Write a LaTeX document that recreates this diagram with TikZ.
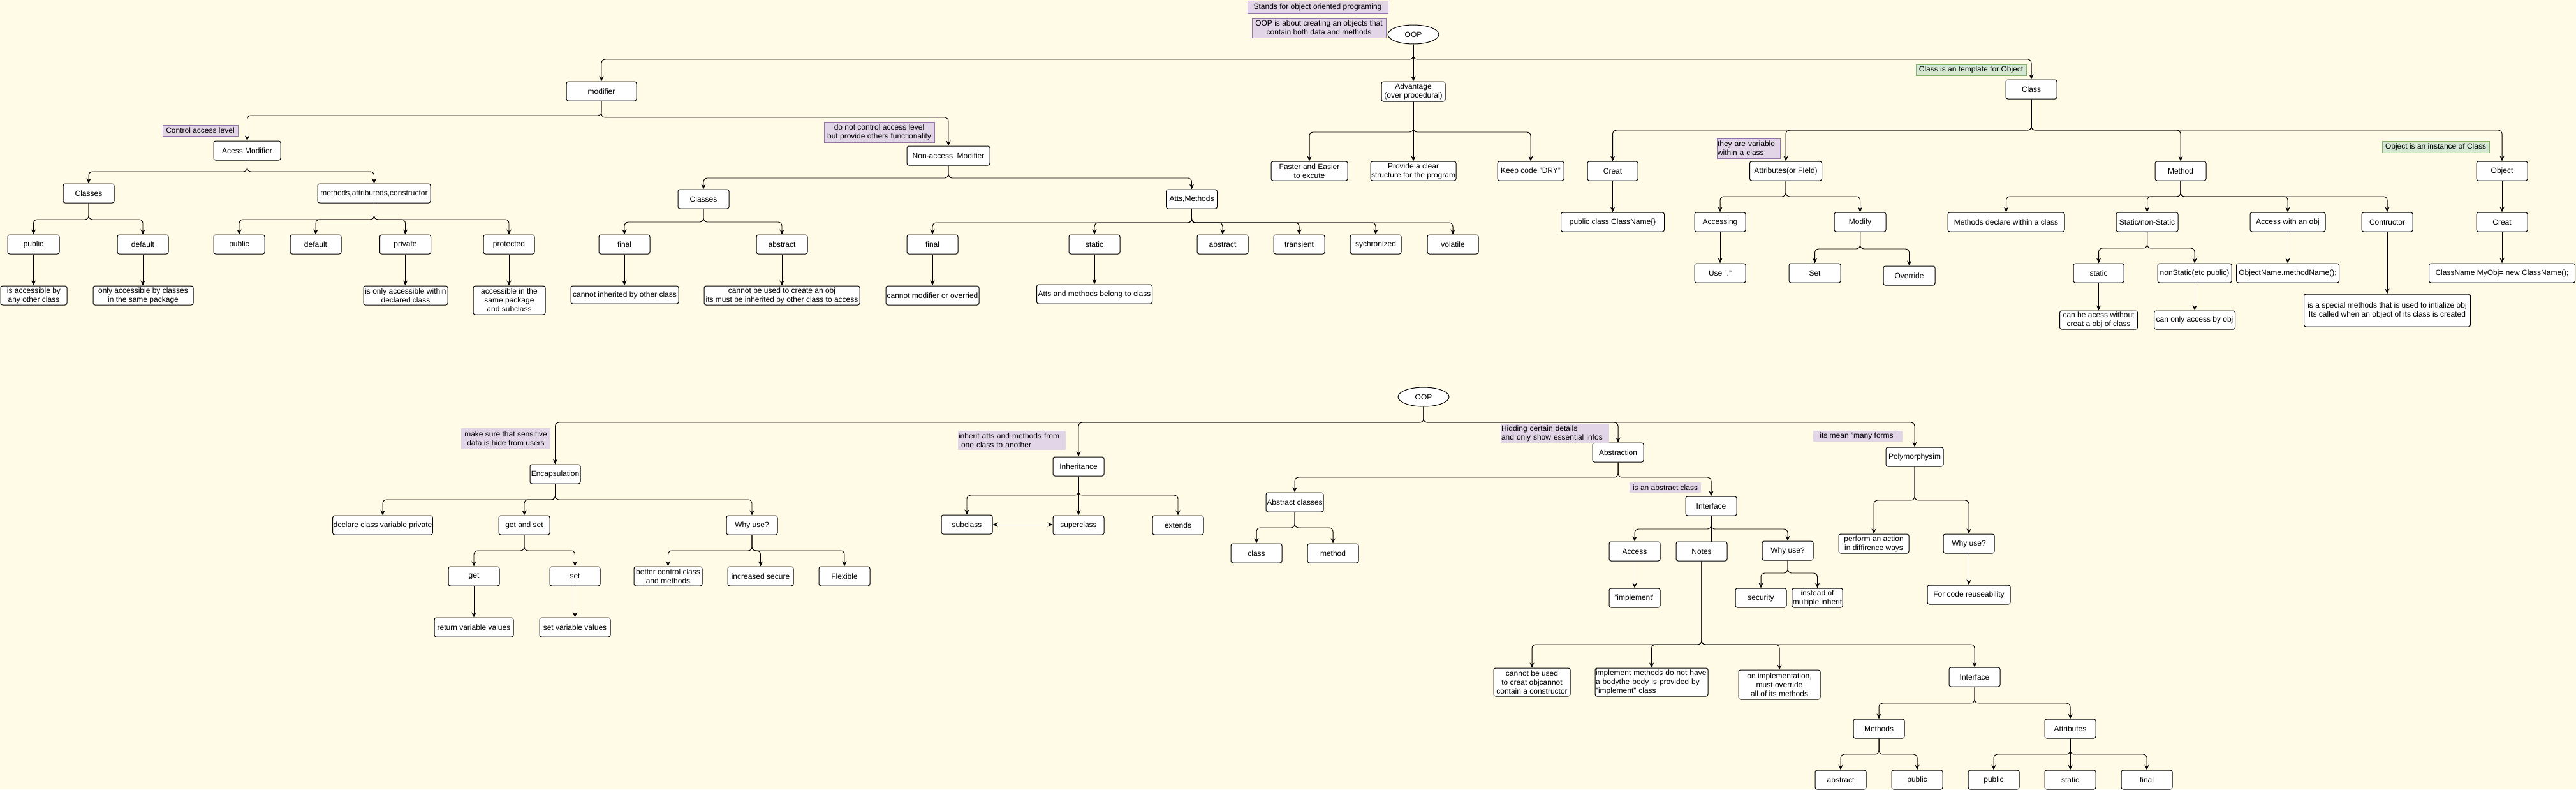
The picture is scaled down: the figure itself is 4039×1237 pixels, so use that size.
\documentclass[tikz,border=0pt]{standalone}
\usepackage{fontspec}
\setmainfont{Liberation Sans}
\usetikzlibrary{arrows.meta,shapes.geometric}
\definecolor{bgc}{HTML}{FFFBE6}
\definecolor{lav}{HTML}{E1D5E7}
\definecolor{lavd}{HTML}{9673A6}
\definecolor{grn}{HTML}{D5E8D4}
\definecolor{grnd}{HTML}{82B366}
\newcommand\fs{\fontsize{12}{14}\selectfont}
\tikzset{
  box/.style={draw=black, fill=white, rounded corners=3pt, line width=1pt, align=center, inner sep=1pt, font=\fs},
  note/.style={fill=lav, draw=lavd, line width=0.9pt, align=center, inner sep=1pt, font=\fs},
  notenb/.style={fill=lav, align=center, inner sep=1pt, font=\fs},
  gnote/.style={fill=grn, draw=grnd, line width=0.9pt, align=center, inner sep=1pt, font=\fs},
  conn/.style={line width=0.95pt, rounded corners=6pt, -{Stealth[length=8pt,width=7pt]}},
  plain/.style={line width=0.95pt},
}
\newcommand\bx[6]{\node[box,minimum width=#4pt,minimum height=#5pt] (#1) at (#2,#3) {#6};}
\newcommand\eb[3]{\coordinate (bus) at (0,#3);\draw[conn] (#1.south) -- (#1.south |- bus) -- (#2.north |- bus) -- (#2.north);}
\newcommand\es[2]{\draw[conn] (#1.south) -- (#1.south |- #2.north);}
\begin{document}
\begin{tikzpicture}[x=1pt,y=-1pt]
\fill[bgc] (0,0) rectangle (4039,1237);
\useasboundingbox (0,0) rectangle (4039,1237);

% ---------- top tree ----------
\node[draw=black, fill=white, ellipse, line width=1pt, minimum width=80pt, minimum height=30pt, inner sep=0pt, font=\fs] (oop) at (2216,54) {OOP};
\node[note, minimum width=220pt, minimum height=20pt] (nStands) at (2066,11) {Stands for object oriented programing};
\node[note, minimum width=210pt, minimum height=31pt] (nAbout) at (2068,43.5) {OOP is about creating an objects that\\contain both data and methods};

\bx{modifier}{943}{143}{110}{30}{modifier}
\bx{adv}{2216}{143.5}{100}{31}{Advantage\\(over procedural)}
\bx{cls}{3185}{140}{80}{30}{Class}
\node[gnote, minimum width=173pt, minimum height=17pt] (nTemplate) at (3090.5,109.5) {Class is an template for Object};

\bx{acc}{387.5}{236}{105}{30}{Acess Modifier}
\node[note, minimum width=118pt, minimum height=17pt] (nCtrl) at (314,204.5) {Control access level};
\bx{nonacc}{1487}{244}{130}{30}{Non-access\ \ Modifier}
\node[note, minimum width=173pt, minimum height=32pt] (nDoNot) at (1378.5,207) {do not control access level\\but provide others functionality};

\bx{classes1}{139}{303}{80}{30}{Classes}
\bx{mac}{586.5}{303}{177}{30}{methods,attributeds,constructor}
\bx{pub1}{52.5}{383}{81}{30}{public}
\bx{def1}{224}{383}{80}{30}{default}
\bx{pub2}{375}{383}{80}{30}{public}
\bx{def2}{495}{383}{80}{30}{default}
\bx{priv}{635.5}{383}{80}{30}{private}
\bx{prot}{798}{383}{80}{30}{protected}
\bx{accA}{53}{463}{104}{30}{is accessible by\\any other class}
\bx{accB}{224.5}{463}{157}{30}{only accessible by classes\\in the same package}
\bx{accC}{636}{463}{132}{30}{is only accessible within\\declared class}
\bx{accD}{798.5}{470.5}{113}{45}{accessible in the\\same package\\and subclass}

\bx{classes2}{1103}{312}{80}{30}{Classes}
\bx{fin1}{979}{383}{80}{30}{final}
\bx{abs1}{1226}{383}{80}{30}{abstract}
\bx{finD}{979.5}{462}{169}{28}{cannot inherited by other class}
\bx{absD}{1226}{463}{244}{30}{cannot be used to create an obj\\its must be inherited by other class to access}

\bx{atts}{1868.5}{312}{80}{30}{Atts,Methods}
\bx{fin2}{1462}{383}{80}{30}{final}
\bx{stat}{1716}{383}{80}{30}{static}
\bx{abs2}{1917}{383}{80}{30}{abstract}
\bx{trans}{2037}{383}{80}{30}{transient}
\bx{sync}{2157}{383}{80}{30}{sychronized}
\bx{vol}{2278}{383}{80}{30}{volatile}
\bx{finD2}{1462}{463}{146}{30}{cannot modifier or overried}
\bx{statD}{1716}{461}{181}{30}{Atts and methods belong to class}

\bx{faster}{2053}{268}{120}{30}{Faster and Easier\\to excute}
\bx{provide}{2216}{268}{134}{30}{Provide a clear\\structure for the program}
\bx{keep}{2400}{268}{104}{30}{Keep code "DRY"}

\bx{creat1}{2528.5}{268}{79}{30}{Creat}
\bx{attr}{2800}{268}{113}{30}{Attributes(or FIeld)}
\node[note, text width=97pt, align=left, minimum height=31pt] (nVar) at (2741.5,232.5) {they are variable\\within a class};
\bx{pubcls}{2528.5}{348}{162}{30}{public class ClassName\{\}}
\bx{accessing}{2697}{348}{80}{30}{Accessing}
\bx{modify}{2916.5}{348}{81}{30}{Modify}
\bx{use}{2697}{428}{80}{30}{Use "."}
\bx{set1}{2845.5}{428}{81}{30}{Set}
\bx{override}{2993.5}{432}{81}{30}{Override}

\bx{meth}{3419}{268}{80}{30}{Method}
\bx{obj}{3923}{268}{80}{30}{Object}
\node[gnote, minimum width=168pt, minimum height=18pt] (nInst) at (3819,230) {Object is an instance of Class};
\bx{mdecl}{3145.5}{348}{183}{30}{Methods declare within a class}
\bx{statns}{3366.5}{348}{97}{30}{Static/non-Static}
\bx{accobj}{3587}{348}{118}{30}{Access with an obj}
\bx{ctor}{3743}{348}{80}{30}{Contructor}
\bx{stat2}{3290.5}{428}{79}{30}{static}
\bx{nonstat}{3441}{428}{116}{30}{nonStatic(etc public)}
\bx{canacc}{3290.5}{501.5}{122}{29}{can be acess without\\creat a obj of class}
\bx{canonly}{3441}{501.5}{127}{29}{can only access by obj}
\bx{objname}{3587}{428}{161}{30}{ObjectName.methodName();}
\bx{special}{3743}{486.5}{261}{51}{is a special methods that is used to intialize obj\\Its called when an object of its class is created}
\bx{creat2}{3923}{348}{80}{30}{Creat}
\bx{classname}{3923}{428}{229}{30}{ClassName MyObj= new ClassName();}

% top edges
\eb{oop}{modifier}{93}
\es{oop}{adv}
\eb{oop}{cls}{93}
\eb{modifier}{acc}{181}
\eb{modifier}{nonacc}{184}
\eb{acc}{classes1}{269}
\eb{acc}{mac}{269}
\eb{classes1}{pub1}{344}
\eb{classes1}{def1}{344}
\eb{mac}{pub2}{344}
\eb{mac}{def2}{344}
\eb{mac}{priv}{344}
\eb{mac}{prot}{344}
\es{pub1}{accA}
\es{def1}{accB}
\es{priv}{accC}
\es{prot}{accD}
\eb{nonacc}{classes2}{279}
\eb{nonacc}{atts}{279}
\eb{classes2}{fin1}{348}
\eb{classes2}{abs1}{348}
\es{fin1}{finD}
\es{abs1}{absD}
\eb{atts}{fin2}{349}
\eb{atts}{stat}{349}
\eb{atts}{abs2}{349}
\eb{atts}{trans}{349}
\eb{atts}{sync}{349}
\eb{atts}{vol}{349}
\es{fin2}{finD2}
\es{stat}{statD}
\eb{adv}{faster}{207}
\es{adv}{provide}
\eb{adv}{keep}{207}
\eb{cls}{creat1}{204}
\eb{cls}{attr}{204}
\eb{cls}{meth}{204}
\eb{cls}{obj}{204}
\es{creat1}{pubcls}
\eb{attr}{accessing}{308}
\eb{attr}{modify}{308}
\es{accessing}{use}
\eb{modify}{set1}{390}
\eb{modify}{override}{390}
\eb{meth}{mdecl}{308}
\eb{meth}{statns}{308}
\eb{meth}{accobj}{308}
\eb{meth}{ctor}{308}
\eb{statns}{stat2}{389}
\eb{statns}{nonstat}{389}
\es{stat2}{canacc}
\es{nonstat}{canonly}
\es{accobj}{objname}
\es{ctor}{special}
\es{obj}{creat2}
\es{creat2}{classname}

% ---------- bottom tree ----------
\node[draw=black, fill=white, ellipse, line width=1pt, minimum width=80pt, minimum height=30pt, inner sep=0pt, font=\fs] (oop2) at (2232,622) {OOP};

\bx{encap}{870.5}{743}{79}{30}{Encapsulation}
\node[notenb, minimum width=140pt, minimum height=33pt] (nSens) at (793,687.5) {make sure that sensitive\\data is hide from users};
\bx{decl}{600}{823}{156}{30}{declare class variable private}
\bx{gs}{822}{823}{80}{30}{get and set}
\bx{why1}{1179}{823}{80}{30}{Why use?}
\bx{get}{743}{903}{80}{30}{get}
\bx{set2}{901.5}{903}{79}{30}{set}
\bx{ret}{743}{983}{124}{30}{return variable values}
\bx{setv}{901.5}{983}{111}{30}{set variable values}
\bx{better}{1047.5}{903}{107}{30}{better control class\\and methods}
\bx{incr}{1192.5}{903}{103}{30}{increased secure}
\bx{flex}{1324}{903}{80}{30}{Flexible}

\bx{inh}{1691}{731}{80}{30}{Inheritance}
\node[notenb, text width=167pt, align=left, minimum height=30pt] (nInh) at (1586.5,690) {inherit atts and methods from\\\ one class to another};
\bx{sub}{1516}{822}{80}{30}{subclass}
\bx{sup}{1691}{823}{80}{30}{superclass}
\bx{ext}{1847}{823}{80}{30}{extends}

\bx{abscl}{2030}{787}{90}{30}{Abstract classes}
\bx{cls2}{1970}{867}{80}{30}{class}
\bx{meth2}{2090}{867}{80}{30}{method}

\bx{abstr}{2537}{709}{80}{30}{Abstraction}
\node[notenb, text width=168pt, align=left, minimum height=30pt] (nHid) at (2438,679) {Hidding certain details\\and only show essential infos};
\bx{iface}{2683}{793}{80}{30}{Interface}
\node[notenb, minimum width=112pt, minimum height=16pt] (nIsAbs) at (2611,764) {is an abstract class};
\bx{access}{2563}{864}{80}{30}{Access}
\bx{notes}{2668}{864}{80}{30}{Notes}
\bx{why2}{2803}{863}{80}{30}{Why use?}
\bx{impl}{2563}{937}{80}{30}{"implement"}
\bx{secur}{2761}{937}{80}{30}{security}
\bx{instead}{2849.5}{937}{79}{30}{instead of\\multiple inherit}

\bx{poly}{3002}{716}{90}{30}{Polymorphysim}
\node[notenb, minimum width=140pt, minimum height=17pt] (nMany) at (2913,683.5) {its mean "many forms"};
\bx{perf}{2938}{852}{110}{30}{perform an action\\in diffirence ways}
\bx{why3}{3087}{852}{80}{30}{Why use?}
\bx{code}{3087}{932}{130}{30}{For code reuseability}

\bx{cannot}{2402}{1069}{120}{44}{cannot be used\\to creat objcannot\\contain a constructor}
\node[box, text width=175pt, align=left, minimum height=44pt] (implm) at (2589.5,1069) {implement methods do not have\\a bodythe body is provided by\\"implement" class};
\bx{onimpl}{2790}{1073}{128}{46}{on implementation,\\must override\\all of its methods}
\bx{iface2}{3096}{1061}{80}{30}{Interface}
\bx{meths}{2946}{1142}{80}{30}{Methods}
\bx{attrs}{3246}{1142}{80}{30}{Attributes}
\bx{absm}{2886}{1222}{80}{30}{abstract}
\bx{pubm}{3006}{1222}{80}{30}{public}
\bx{puba}{3126}{1222}{80}{30}{public}
\bx{stata}{3246}{1222}{80}{30}{static}
\bx{fina}{3366}{1222}{80}{30}{final}

% bottom edges
\eb{oop2}{encap}{662}
\eb{oop2}{inh}{662}
\eb{oop2}{abstr}{662}
\eb{oop2}{poly}{662}
\eb{encap}{decl}{783}
\eb{encap}{gs}{783}
\eb{encap}{why1}{783}
\eb{gs}{get}{863}
\eb{gs}{set2}{863}
\es{get}{ret}
\es{set2}{setv}
\eb{why1}{better}{863}
\eb{why1}{incr}{863}
\eb{why1}{flex}{863}
\eb{inh}{sub}{776}
\es{inh}{sup}
\eb{inh}{ext}{776}
\draw[line width=0.95pt, {Stealth[length=8pt,width=7pt]}-{Stealth[length=8pt,width=7pt]}] (sub.east) -- (sup.west |- sub.east);
\eb{abstr}{abscl}{748}
\eb{abstr}{iface}{748}
\eb{abscl}{cls2}{827}
\eb{abscl}{meth2}{827}
\eb{iface}{access}{829}
\draw[plain] (iface.south) -- (iface.south |- notes.north);
\eb{iface}{why2}{829}
\es{access}{impl}
\eb{why2}{secur}{898}
\eb{why2}{instead}{898}
\eb{notes}{cannot}{1010}
\eb{notes}{implm}{1010}
\eb{notes}{onimpl}{1010}
\eb{notes}{iface2}{1010}
\eb{poly}{perf}{784}
\eb{poly}{why3}{784}
\es{why3}{code}
\eb{iface2}{meths}{1102}
\eb{iface2}{attrs}{1102}
\eb{meths}{absm}{1182}
\eb{meths}{pubm}{1182}
\eb{attrs}{puba}{1182}
\es{attrs}{stata}
\eb{attrs}{fina}{1182}
\end{tikzpicture}
\end{document}
